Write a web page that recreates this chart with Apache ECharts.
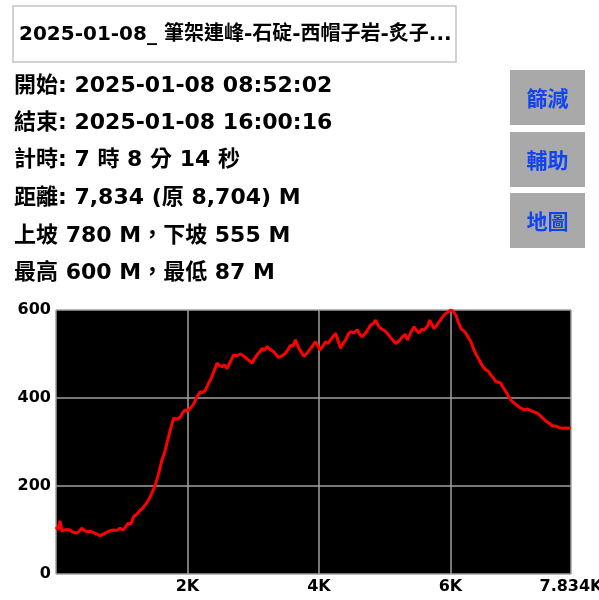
<!DOCTYPE html>
<html>
<head>
<meta charset="utf-8">
<script src="https://cdn.jsdelivr.net/npm/echarts@6/dist/echarts.min.js"></script>
<style>
html,body{margin:0;padding:0;background:#fff;overflow:hidden;}
#c{width:599px;height:600px;}
</style>
</head>
<body>
<div id="c"></div>
<script>
// ---- data ----
const titleText = '2025-01-08_ 筆架連峰-石碇-西帽子岩-炙子...';
const infoLines = [
  '開始: 2025-01-08 08:52:02',
  '結束: 2025-01-08 16:00:16',
  '計時: 7 時 8 分 14 秒',
  '距離: 7,834 (原 8,704) M',
  '上坡 780 M，下坡 555 M',
  '最高 600 M，最低 87 M'
];
const buttons = ['篩減', '輔助', '地圖'];
const distances = [0,30,61,90,112,150,213,260,315,350,391,430,467,520,569,620,671,710,747,800,874,920,976,1026,1060,1103,1140,1179,1230,1280,1320,1357,1400,1433,1470,1509,1560,1611,1650,1687,1738,1789,1840,1890,1930,1966,2000,2043,2090,2144,2195,2230,2271,2310,2348,2400,2449,2490,2525,2560,2602,2650,2703,2750,2805,2840,2881,2930,2983,3020,3059,3100,3135,3170,3211,3260,3313,3350,3389,3440,3491,3530,3567,3600,3643,3670,3694,3730,3770,3820,3872,3910,3948,3980,4014,4060,4101,4140,4177,4215,4253,4290,4329,4370,4405,4445,4482,4530,4583,4620,4659,4720,4787,4830,4863,4900,4939,4990,5041,5100,5168,5220,5270,5310,5346,5400,5447,5490,5523,5560,5600,5650,5686,5720,5752,5790,5828,5870,5904,5950,6006,6040,6082,6120,6159,6200,6235,6270,6311,6350,6387,6425,6463,6500,6540,6580,6616,6650,6692,6730,6768,6810,6845,6880,6921,6970,7023,7070,7124,7170,7226,7280,7327,7365,7404,7450,7505,7550,7607,7650,7709,7770,7834];
const elevations = [107,100,121,98,96,101,100,95,93,97,104,99,96,97,94,91,87,90,93,97,100,99,104,100,108,116,113,130,136,145,150,157,166,176,188,202,228,259,275,297,327,354,352,356,368,373,370,377,385,403,414,412,418,430,441,460,479,474,471,475,467,482,498,496,500,497,492,486,479,490,498,505,513,508,517,510,505,498,492,496,502,510,520,517,532,522,513,505,495,502,513,520,528,520,509,518,528,524,532,540,547,530,513,525,532,545,551,548,555,545,539,550,566,570,577,565,558,554,547,535,524,530,539,545,532,550,562,552,548,556,555,563,577,566,558,565,573,582,589,594,600,597,589,572,558,553,547,538,528,512,500,490,479,470,464,460,452,446,437,436,433,422,414,405,395,388,382,377,373,375,371,368,365,360,354,348,342,337,336,333,331,332,331];
const xMax = 7834;
const yTicks = [0, 200, 400, 600];

// ---- chart ----
const FONT_LATIN = '"DejaVu Sans", "Noto Sans CJK TC", sans-serif';
const chart = echarts.init(document.getElementById('c'), null, {renderer: 'canvas'});
const points = distances.map((d, i) => [d, elevations[i]]);

const graphics = [];
graphics.push({
  type: 'rect', shape: {x: 13, y: 6, width: 443, height: 56},
  style: {fill: '#fff', stroke: '#c4c4c4', lineWidth: 1.5}, silent: true
});
graphics.push({
  type: 'text', x: 19, y: 35,
  style: {text: titleText, font: 'bold 20px ' + FONT_LATIN, fill: '#000', textAlign: 'left', textVerticalAlign: 'middle'}
});
const lineY = [86, 123, 160, 198, 236, 273];
infoLines.forEach((t, i) => {
  graphics.push({
    type: 'text', x: 14, y: lineY[i],
    style: {text: t, font: 'bold 22px ' + FONT_LATIN, fill: '#000', textAlign: 'left', textVerticalAlign: 'middle'}
  });
});
const btnY = [70, 132, 193];
buttons.forEach((b, i) => {
  graphics.push({
    type: 'rect', shape: {x: 510, y: btnY[i], width: 75, height: 55},
    style: {fill: '#a9a9a9'}
  });
  graphics.push({
    type: 'text', x: 547.5, y: btnY[i] + 28,
    style: {text: b, font: 'bold 21px "Noto Sans CJK TC", sans-serif', fill: '#1144f0', textAlign: 'center', textVerticalAlign: 'middle'}
  });
});

chart.setOption({
  animation: false,
  backgroundColor: '#fff',
  graphic: graphics,
  grid: {left: 56, right: 28, top: 310, bottom: 26, show: true, backgroundColor: '#000', borderWidth: 0, containLabel: false, outerBoundsMode: 'none'},
  xAxis: {
    type: 'value', min: 0, max: xMax, interval: 2000,
    axisLine: {show: false}, axisTick: {show: false},
    splitLine: {show: true, lineStyle: {color: '#a0a0a0', width: 1.5}},
    axisLabel: {
      show: true, margin: 5, color: '#000', fontWeight: 'bold', fontSize: 16, fontFamily: 'DejaVu Sans',
      showMinLabel: true, showMaxLabel: true, hideOverlap: false,
      formatter: v => v === 0 ? '' : (v / 1000) + 'K'
    }
  },
  yAxis: {
    type: 'value', min: yTicks[0], max: yTicks[yTicks.length - 1], interval: 200,
    axisLine: {show: false}, axisTick: {show: false},
    splitLine: {show: true, lineStyle: {color: '#a0a0a0', width: 1.5}},
    axisLabel: {margin: 5, color: '#000', fontWeight: 'bold', fontSize: 16, fontFamily: 'DejaVu Sans'}
  },
  series: [{
    type: 'line', data: points, showSymbol: false, symbol: 'none',
    lineStyle: {color: '#ff0000', width: 3}, z: 5, clip: true
  }]
});
</script>
</body>
</html>
